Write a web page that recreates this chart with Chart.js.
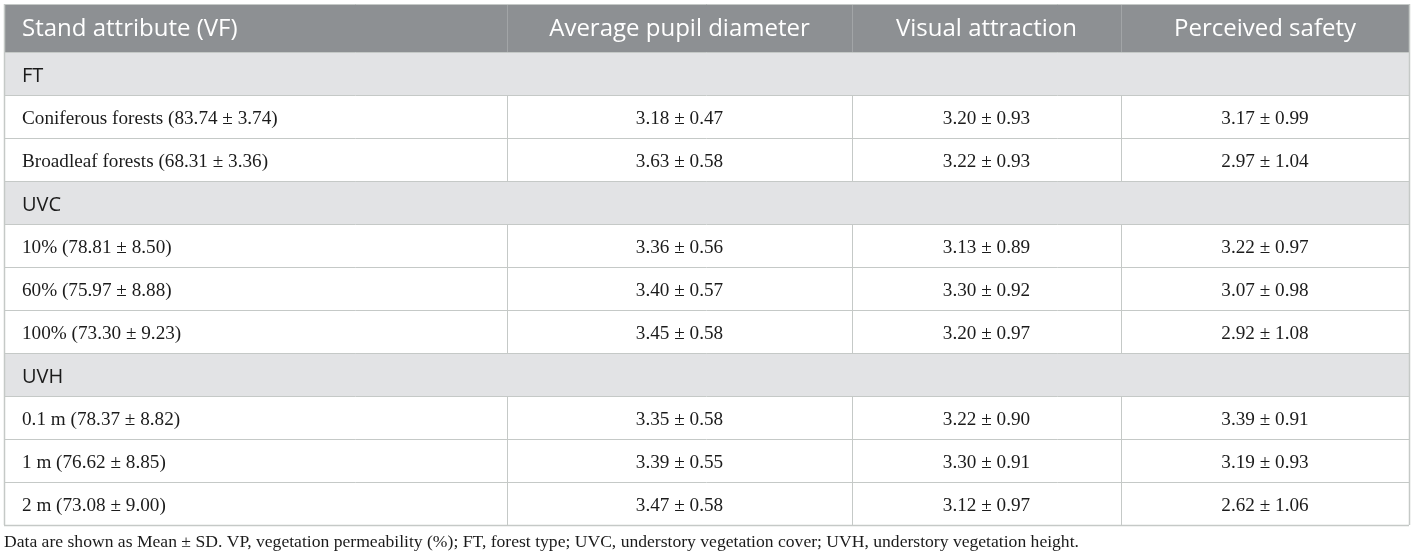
<!DOCTYPE html>
<html>
<head>
<meta charset="utf-8">
<script src="https://cdn.jsdelivr.net/npm/chart.js@4/dist/chart.umd.min.js"></script>
<style>
html,body{margin:0;padding:0;background:#fff;}
#wrap{width:1414px;height:558px;position:relative;}
</style>
</head>
<body>
<div id="wrap"><canvas id="c" width="1414" height="558"></canvas></div>
<script>
// ---- data ----
const columns = ['Stand attribute (VF)', 'Average pupil diameter', 'Visual attraction', 'Perceived safety'];
const groups = ['FT', 'UVC', 'UVH'];
const levels = ['Coniferous forests', 'Broadleaf forests', '10%', '60%', '100%', '0.1 m', '1 m', '2 m'];
const levelGroup = [0, 0, 1, 1, 1, 2, 2, 2];
const vpMean = [83.74, 68.31, 78.81, 75.97, 73.30, 78.37, 76.62, 73.08];
const vpSD = [3.74, 3.36, 8.50, 8.88, 9.23, 8.82, 8.85, 9.00];
const pupilMean = [3.18, 3.63, 3.36, 3.40, 3.45, 3.35, 3.39, 3.47];
const pupilSD = [0.47, 0.58, 0.56, 0.57, 0.58, 0.58, 0.55, 0.58];
const attractionMean = [3.20, 3.22, 3.13, 3.30, 3.20, 3.22, 3.30, 3.12];
const attractionSD = [0.93, 0.93, 0.89, 0.92, 0.97, 0.90, 0.91, 0.97];
const safetyMean = [3.17, 2.97, 3.22, 3.07, 2.92, 3.39, 3.19, 2.62];
const safetySD = [0.99, 1.04, 0.97, 0.98, 1.08, 0.91, 0.93, 1.06];
const footnote = 'Data are shown as Mean \u00b1 SD. VP, vegetation permeability (%); FT, forest type; UVC, understory vegetation cover; UVH, understory vegetation height.';

// ---- layout (style, not data) ----
const colWidths = [503, 345, 269, 288];
const headerHeight = 48;
const rowHeight = 43;
const style = {
  headerBg: '#8d9093', groupBg: '#e2e3e5', cellBg: '#ffffff',
  line: '#c5c9c7', headerLine: '#a2a5a7',
  headerFont: '24px "Open Sans", "Noto Sans", sans-serif',
  groupFont: '20px "Open Sans", "Noto Sans", sans-serif',
  cellFont: '19.2px "Liberation Serif", "DejaVu Serif", serif',
  noteFont: '17.6px "Liberation Serif", "DejaVu Serif", serif',
  text: '#1b1b1b', padLeft: 18
};

// ---- build table rows ----
const fmt = (m, s) => m.toFixed(2) + ' \u00b1 ' + s.toFixed(2);
const rows = [{ type: 'header', cells: columns }];
groups.forEach((g, gi) => {
  rows.push({ type: 'group', cells: [g] });
  levels.forEach((lv, i) => {
    if (levelGroup[i] !== gi) return;
    rows.push({ type: 'data', cells: [
      lv + ' (' + fmt(vpMean[i], vpSD[i]) + ')',
      fmt(pupilMean[i], pupilSD[i]),
      fmt(attractionMean[i], attractionSD[i]),
      fmt(safetyMean[i], safetySD[i])
    ]});
  });
});
const colEdges = [0];
colWidths.forEach(w => colEdges.push(colEdges[colEdges.length - 1] + w));
const rowEdges = [0];
rows.forEach(r => rowEdges.push(rowEdges[rowEdges.length - 1] + (r.type === 'header' ? headerHeight : rowHeight)));
const tableW = colEdges[colEdges.length - 1];
const tableH = rowEdges[rowEdges.length - 1];

const tablePlugin = {
  id: 'tablePlugin',
  afterDraw(chart) {
    const ctx = chart.ctx;
    const xs = chart.scales.x, ys = chart.scales.y;
    const X = v => xs.getPixelForValue(v);
    const Y = v => ys.getPixelForValue(v);
    ctx.save();
    rows.forEach((r, ri) => {
      const y0 = Y(rowEdges[ri]), y1 = Y(rowEdges[ri + 1]);
      ctx.fillStyle = r.type === 'header' ? style.headerBg : (r.type === 'group' ? style.groupBg : style.cellBg);
      ctx.fillRect(X(0), y0, X(tableW) - X(0), y1 - y0);
    });
    ctx.lineWidth = 1;
    rows.forEach((r, ri) => {
      if (r.type === 'group') return;
      const y0 = Y(rowEdges[ri]), y1 = Y(rowEdges[ri + 1]);
      ctx.strokeStyle = r.type === 'header' ? style.headerLine : style.line;
      for (let c = 1; c < colEdges.length - 1; c++) {
        const x = Math.round(X(colEdges[c])) + 0.5;
        ctx.beginPath(); ctx.moveTo(x, y0); ctx.lineTo(x, y1); ctx.stroke();
      }
    });
    ctx.strokeStyle = style.line;
    rowEdges.forEach((e, i) => {
      const y = Math.round(Y(e)) + 0.5;
      ctx.lineWidth = (i === rowEdges.length - 1) ? 1.5 : 1;
      ctx.beginPath(); ctx.moveTo(X(0), y); ctx.lineTo(X(tableW), y); ctx.stroke();
    });
    ctx.lineWidth = 1.5;
    [0, tableW].forEach(e => {
      const x = Math.round(X(e)) + 0.5;
      ctx.beginPath(); ctx.moveTo(x, Y(0)); ctx.lineTo(x, Y(tableH)); ctx.stroke();
    });
    ctx.textBaseline = 'middle';
    rows.forEach((r, ri) => {
      const yc = (Y(rowEdges[ri]) + Y(rowEdges[ri + 1])) / 2;
      let dy = 1;
      if (r.type === 'header') { ctx.font = style.headerFont; ctx.fillStyle = '#ffffff'; dy = 1.5; }
      else if (r.type === 'group') { ctx.font = style.groupFont; ctx.fillStyle = style.text; dy = 2.5; }
      else { ctx.font = style.cellFont; ctx.fillStyle = style.text; dy = 2.5; }
      r.cells.forEach((t, c) => {
        if (c === 0) {
          ctx.textAlign = 'left';
          ctx.fillText(t, X(colEdges[0]) + style.padLeft, yc + dy);
        } else {
          ctx.textAlign = 'center';
          ctx.fillText(t, (X(colEdges[c]) + X(colEdges[c + 1])) / 2, yc + dy);
        }
      });
    });
    ctx.font = style.noteFont;
    ctx.fillStyle = style.text;
    ctx.textAlign = 'left';
    ctx.fillText(footnote, X(0), Y(tableH) + 17);
    ctx.restore();
  }
};

new Chart(document.getElementById('c'), {
  type: 'scatter',
  data: { datasets: [{ data: [], pointRadius: 0 }] },
  options: {
    responsive: false,
    animation: false,
    devicePixelRatio: 1,
    layout: { padding: { left: 4, right: 5, top: 4, bottom: 33 } },
    plugins: { legend: { display: false }, tooltip: { enabled: false }, title: { display: false } },
    scales: {
      x: { type: 'linear', min: 0, max: tableW, display: false },
      y: { type: 'linear', min: 0, max: tableH, reverse: true, display: false }
    }
  },
  plugins: [tablePlugin]
});
</script>
</body>
</html>
